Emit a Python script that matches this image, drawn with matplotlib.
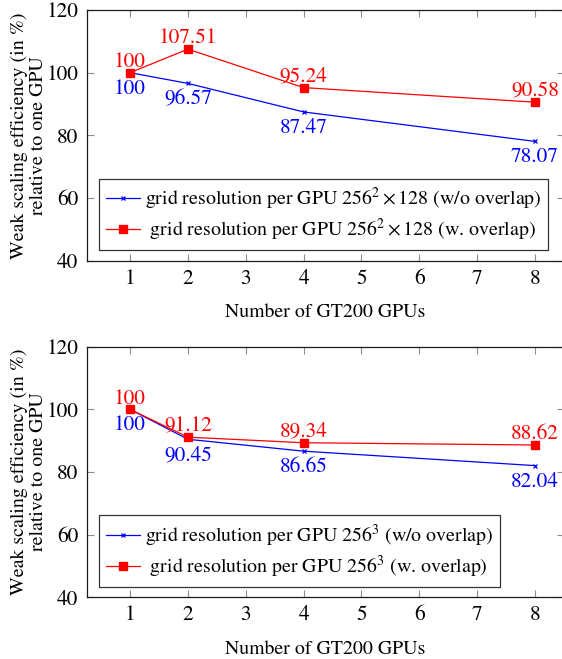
import numpy as np
import matplotlib
matplotlib.use("Agg")
import matplotlib.pyplot as plt

plt.rcParams["font.family"] = ["STIXGeneral", "DejaVu Serif"]
plt.rcParams["mathtext.fontset"] = "stix"

# weak scaling measurements, efficiency relative to one GPU (in %)
gpus = [1, 2, 4, 8]

eff_2d_no_overlap = [100, 96.57, 87.47, 78.07]
eff_2d_overlap = [100, 107.51, 95.24, 90.58]

eff_3d_no_overlap = [100, 90.45, 86.65, 82.04]
eff_3d_overlap = [100, 91.12, 89.34, 88.62]

labels_2d = [r"grid resolution per GPU $256^2\times128$ (w/o overlap)",
             r" grid resolution per GPU $256^2\times128$ (w. overlap)"]
labels_3d = [r"grid resolution per GPU $256^3$ (w/o overlap)",
             r" grid resolution per GPU $256^3$ (w. overlap)"]

xticks = [1, 2, 3, 4, 5, 6, 7, 8]
yticks = [40, 60, 80, 100, 120]

W, H = 562, 659
fig = plt.figure(figsize=(W / 100, H / 100), dpi=100)

# axes boxes in pixels: left, top, right, bottom
boxes = [(86.7, 10.0, 563.9, 260.7), (86.7, 346.7, 563.9, 597.3)]


def panel(box, no_ov, ov, labels):
    l, t, r, b = box
    ax = fig.add_axes([l / W, 1 - b / H, (r - l) / W, (b - t) / H])
    ax.plot(gpus, no_ov, color="blue", lw=0.9, marker="x", ms=3.5, mew=0.9,
            label=labels[0])
    ax.plot(gpus, ov, color="red", lw=0.9, marker="s", ms=6.3,
            label=labels[1])
    for x, y in zip(gpus, ov):
        ax.annotate(f"{y:g}", (x, y), xytext=(0, 4.2), textcoords="offset points",
                    ha="center", va="baseline", color="red", fontsize=15.3)
    for x, y in zip(gpus, no_ov):
        ax.annotate(f"{y:g}", (x, y), xytext=(0, -4.5), textcoords="offset points",
                    ha="center", va="top", color="blue", fontsize=15.3)
    ax.set_xlim(0.25, 8.5)
    ax.set_ylim(40, 120)
    ax.set_xticks(xticks)
    ax.set_yticks(yticks)
    ax.tick_params(direction="in", top=True, right=True, length=5,
                   color="0.55", width=0.8, labelsize=15.3, pad=6)
    for s in ax.spines.values():
        s.set_linewidth(0.9)
        s.set_color("0.1")
    ax.set_xlabel("Number of GT200 GPUs", fontsize=14.3, labelpad=11)
    leg = ax.legend(loc="lower left", bbox_to_anchor=(0.026, 0.043),
                    borderaxespad=0, fontsize=14.3, frameon=True, fancybox=False,
                    edgecolor="black", handlelength=1.7, handletextpad=0.25,
                    labelspacing=0.25, borderpad=0.35)
    leg.get_frame().set_linewidth(0.9)
    fig.text(29 / W, 1 - (t + b) / 2 / H,
             "Weak scaling efficiency (in %)\nrelative to one GPU",
             rotation=90, ha="center", va="center", multialignment="center",
             fontsize=14.3, linespacing=1.2)
    return ax


panel(boxes[0], eff_2d_no_overlap, eff_2d_overlap, labels_2d)
panel(boxes[1], eff_3d_no_overlap, eff_3d_overlap, labels_3d)

fig.savefig("out.png", dpi=100)
